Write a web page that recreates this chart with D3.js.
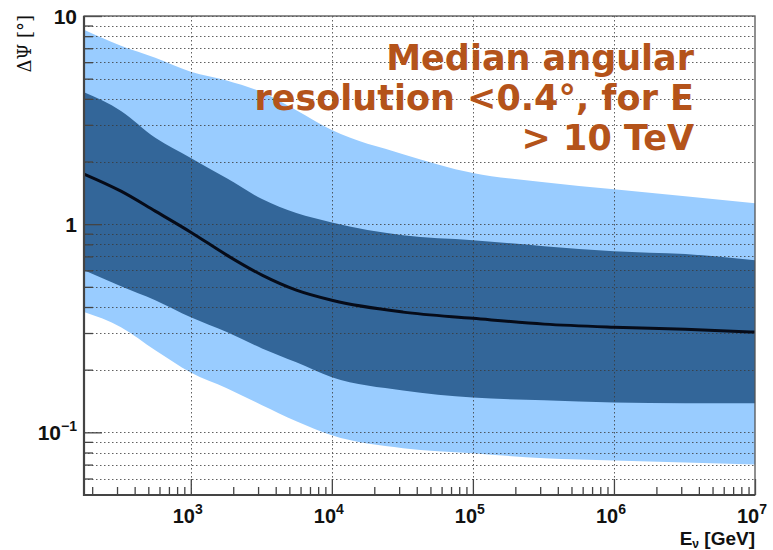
<!DOCTYPE html>
<html>
<head>
<meta charset="utf-8">
<script src="https://cdn.jsdelivr.net/npm/d3@7"></script>
<style>
  html, body { margin: 0; padding: 0; background: #fff; }
  svg { display: block; }
</style>
</head>
<body>
<svg id="chart" width="773" height="550"></svg>
<script>
// ---- data ----
const energy    = [175, 320, 560, 1000, 1800, 3200, 5600, 10000, 32000, 100000, 320000, 1000000, 3200000, 10000000];
const outerHigh = [8.6, 7.2, 6.3, 5.4, 4.9, 4.3, 3.53, 2.83, 2.17, 1.76, 1.59, 1.47, 1.36, 1.26];
const innerHigh = [4.3, 3.5, 2.6, 2.08, 1.66, 1.32, 1.13, 1.02, 0.885, 0.838, 0.784, 0.742, 0.718, 0.671];
const median    = [1.74, 1.44, 1.155, 0.915, 0.71, 0.569, 0.482, 0.431, 0.378, 0.353, 0.331, 0.320, 0.313, 0.303];
const innerLow  = [0.60, 0.503, 0.431, 0.357, 0.303, 0.253, 0.217, 0.184, 0.159, 0.147, 0.1425, 0.139, 0.138, 0.138];
const outerLow  = [0.378, 0.320, 0.248, 0.194, 0.163, 0.135, 0.113, 0.0967, 0.0838, 0.0793, 0.075, 0.0733, 0.0717, 0.070];

const xMajorTicks = [1e3, 1e4, 1e5, 1e6, 1e7];
const xTickExponents = ["3", "4", "5", "6", "7"];
const xMinorTicks = [200,300,400,500,600,700,800,900,
  2e3,3e3,4e3,5e3,6e3,7e3,8e3,9e3,
  2e4,3e4,4e4,5e4,6e4,7e4,8e4,9e4,
  2e5,3e5,4e5,5e5,6e5,7e5,8e5,9e5,
  2e6,3e6,4e6,5e6,6e6,7e6,8e6,9e6];
const yMajorTicks = [0.1, 1, 10];
const yTickBases = ["10", "1", "10"];
const yTickExponents = ["\u22121", "", ""];
const yMinorTicks = [0.06,0.07,0.08,0.09, 0.2,0.3,0.4,0.5,0.6,0.7,0.8,0.9, 2,3,4,5,6,7,8,9];
const xGridValues = [1e3, 1e4, 1e5, 1e6];
const annotationLines = ["Median angular", "resolution <0.4\u00B0, for E", "> 10 TeV"];

// ---- layout ----
const L = 84, R = 755, T = 16, B = 495;
const svg = d3.select("#chart");
const x = d3.scaleLog().domain([175, 1e7]).range([L, R]);
const y = d3.scaleLog().domain([0.05, 10]).range([B, T]);

const rows = energy.map((e, i) => ({e, oh: outerHigh[i], ih: innerHigh[i], m: median[i], il: innerLow[i], ol: outerLow[i]}));

svg.append("defs").append("clipPath").attr("id", "plotclip")
  .append("rect").attr("x", L).attr("y", T).attr("width", R - L).attr("height", B - T);

const plot = svg.append("g").attr("clip-path", "url(#plotclip)");

const curve = d3.curveMonotoneX;
plot.append("path").datum(rows)
  .attr("fill", "#99ccff")
  .attr("d", d3.area().curve(curve).x(d => x(d.e)).y0(d => y(d.ol)).y1(d => y(d.oh)));
plot.append("path").datum(rows)
  .attr("fill", "#336699")
  .attr("d", d3.area().curve(curve).x(d => x(d.e)).y0(d => y(d.il)).y1(d => y(d.ih)));

// grid
const grid = plot.append("g").attr("stroke", "#3a3a3a").attr("stroke-width", 1)
  .attr("stroke-dasharray", "1.5,2.5").attr("opacity", 0.8);
grid.selectAll("line.h").data(yMajorTicks.concat(yMinorTicks)).join("line")
  .attr("x1", L).attr("x2", R).attr("y1", d => Math.round(y(d)) + 0.5).attr("y2", d => Math.round(y(d)) + 0.5);
grid.selectAll("line.v").data(xGridValues).join("line")
  .attr("y1", T).attr("y2", B).attr("x1", d => Math.round(x(d)) + 0.5).attr("x2", d => Math.round(x(d)) + 0.5);

// median
plot.append("path").datum(rows)
  .attr("fill", "none").attr("stroke", "#060b18").attr("stroke-width", 3)
  .attr("d", d3.line().curve(curve).x(d => x(d.e)).y(d => y(d.m)));

// axes (ticks inward)
const axStyle = g => { g.select(".domain").remove(); g.selectAll("line").attr("stroke", "#444").attr("stroke-width", 1.3); };
svg.append("g").attr("transform", `translate(0,${B})`)
  .call(d3.axisBottom(x).tickValues(xMajorTicks).tickSizeInner(-16).tickSizeOuter(0).tickFormat(""))
  .call(axStyle);
svg.append("g").attr("transform", `translate(0,${B})`)
  .call(d3.axisBottom(x).tickValues(xMinorTicks).tickSizeInner(-8).tickSizeOuter(0).tickFormat(""))
  .call(axStyle);
svg.append("g").attr("transform", `translate(${L},0)`)
  .call(d3.axisLeft(y).tickValues(yMajorTicks).tickSizeInner(-18).tickSizeOuter(0).tickFormat(""))
  .call(axStyle);
svg.append("g").attr("transform", `translate(${L},0)`)
  .call(d3.axisLeft(y).tickValues(yMinorTicks).tickSizeInner(-9).tickSizeOuter(0).tickFormat(""))
  .call(axStyle);

// frame
svg.append("rect").attr("x", L).attr("y", T).attr("width", R - L).attr("height", B - T)
  .attr("fill", "none").attr("stroke", "#555").attr("stroke-width", 1.3);
svg.append("line").attr("x1", L).attr("x2", L).attr("y1", T).attr("y2", B + 1)
  .attr("stroke", "#444").attr("stroke-width", 2.2);
svg.append("line").attr("x1", L - 1).attr("x2", R).attr("y1", B).attr("y2", B)
  .attr("stroke", "#444").attr("stroke-width", 2.2);

// tick labels
const lblFont = "'Liberation Sans', Arial, sans-serif";
const xl = svg.append("g").attr("font-family", lblFont).attr("font-weight", "bold").attr("fill", "#111");
xMajorTicks.forEach((v, i) => {
  const t = xl.append("text").attr("x", x(v) - 3).attr("y", 523).attr("text-anchor", "middle").attr("font-size", 20);
  t.append("tspan").text("10");
  t.append("tspan").attr("font-size", 14).attr("dy", -9).text(xTickExponents[i]);
});
yMajorTicks.forEach((v, i) => {
  const t = xl.append("text").attr("x", 77).attr("y", y(v) + 8).attr("text-anchor", "end").attr("font-size", 21);
  t.append("tspan").text(yTickBases[i]);
  if (yTickExponents[i]) t.append("tspan").attr("font-size", 14).attr("dy", -9).text(yTickExponents[i]);
});

// axis titles
const xt = svg.append("text").attr("x", 755).attr("y", 545).attr("text-anchor", "end")
  .attr("font-family", lblFont).attr("font-weight", "bold").attr("font-size", 19).attr("fill", "#111");
xt.append("tspan").text("E");
xt.append("tspan").attr("font-size", 12).attr("dy", 3).text("\u03BD");
xt.append("tspan").attr("dy", -3).text(" [GeV]");

svg.append("text").attr("transform", "translate(31,15) rotate(-90)").attr("text-anchor", "end")
  .attr("font-family", "'DejaVu Serif', 'Liberation Serif', serif").attr("font-size", 18).attr("fill", "#111")
  .text("\u0394\u03A8 [\u00B0]");

// annotation
const ann = svg.append("g").attr("font-family", "'DejaVu Sans', Verdana, sans-serif")
  .attr("font-weight", "bold").attr("font-size", 35).attr("fill", "#b4531a").attr("text-anchor", "end");
annotationLines.forEach((s, i) => {
  ann.append("text").attr("x", 694).attr("y", 70 + i * 40).text(s);
});
</script>
</body>
</html>
